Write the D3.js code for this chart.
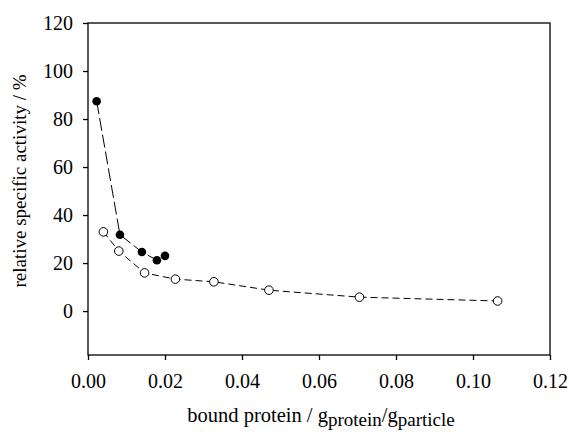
<!DOCTYPE html>
<html lang="en">
<head>
<meta charset="utf-8">
<title>Relative specific activity</title>
<script src="https://d3js.org/d3.v7.min.js"></script>
<style>
  body { margin: 0; background: #fff; }
  text { font-family: "Liberation Serif", "Times New Roman", serif; fill: #000; }
</style>
</head>
<body>
<script>
// filled circles
var filledX = [0.00225, 0.0083, 0.0140, 0.0179, 0.0200];
var filledY = [87.4, 31.8, 24.6, 21.2, 23.0];
// open circles
var openX = [0.0040, 0.0080, 0.0147, 0.0227, 0.0327, 0.0470, 0.0705, 0.1064];
var openY = [33.0, 25.0, 15.9, 13.3, 12.2, 8.7, 5.8, 4.2];

var xTicks = [0, 0.02, 0.04, 0.06, 0.08, 0.10, 0.12];
var yTicks = [0, 20, 40, 60, 80, 100, 120];

var w = 569, h = 432;
var mLeft = 88, mRight = 550, mTop = 23, mBottom = 355;

var svg = d3.select("body").append("svg")
  .attr("width", w)
  .attr("height", h);

var xScale = d3.scaleLinear().domain([0, 0.12]).range([mLeft, mRight]);
var yScale = d3.scaleLinear().domain([-18.3, 120]).range([mBottom, mTop]);

// frame
svg.append("rect")
  .attr("x", mLeft).attr("y", mTop)
  .attr("width", mRight - mLeft).attr("height", mBottom - mTop)
  .attr("fill", "none").attr("stroke", "#000").attr("stroke-width", 1.3);

var xAxis = svg.append("g")
  .attr("transform", "translate(0," + mBottom + ")")
  .call(d3.axisBottom(xScale).tickValues(xTicks).tickFormat(d3.format(".2f")).tickSizeOuter(0).tickSize(5).tickPadding(14));
var yAxis = svg.append("g")
  .attr("transform", "translate(" + mLeft + ",0)")
  .call(d3.axisLeft(yScale).tickValues(yTicks).tickSizeOuter(0).tickSize(5).tickPadding(10));

[xAxis, yAxis].forEach(function(g) {
  g.select(".domain").remove();
  g.selectAll("line").attr("stroke", "#000").attr("stroke-width", 1.3);
  g.selectAll("text").attr("font-size", 20).attr("font-family", "Liberation Serif").attr("fill", "#000");
});

var line = d3.line().x(d => xScale(d[0])).y(d => yScale(d[1]));

var filled = filledX.map((x, i) => [x, filledY[i]]);
var open = openX.map((x, i) => [x, openY[i]]);

svg.append("path").datum(filled)
  .attr("d", line).attr("fill", "none")
  .attr("stroke", "#000").attr("stroke-width", 1)
  .attr("stroke-dasharray", "13,4");

svg.append("path").datum(open)
  .attr("d", line).attr("fill", "none")
  .attr("stroke", "#000").attr("stroke-width", 1)
  .attr("stroke-dasharray", "7,4");

svg.selectAll("circle.filled").data(filled).enter().append("circle")
  .attr("class", "filled")
  .attr("cx", d => xScale(d[0])).attr("cy", d => yScale(d[1]))
  .attr("r", 4.3).attr("fill", "#000");

svg.selectAll("circle.open").data(open).enter().append("circle")
  .attr("class", "open")
  .attr("cx", d => xScale(d[0])).attr("cy", d => yScale(d[1]))
  .attr("r", 4.3).attr("fill", "#fff").attr("stroke", "#000").attr("stroke-width", 1);

// y label
svg.append("text")
  .attr("transform", "translate(26,181) rotate(-90)")
  .attr("text-anchor", "middle")
  .attr("font-size", 19)
  .text("relative specific activity / %");

// x label
var xl = svg.append("text")
  .attr("x", (mLeft + mRight) / 2 + 2).attr("y", 422)
  .attr("text-anchor", "middle")
  .attr("font-size", 20.5);
xl.append("tspan").text("bound protein / g");
xl.append("tspan").attr("font-size", 19).attr("dy", 4).text("protein");
xl.append("tspan").attr("dy", -4).text("/g");
xl.append("tspan").attr("font-size", 19).attr("dy", 4).text("particle");
</script>
</body>
</html>
